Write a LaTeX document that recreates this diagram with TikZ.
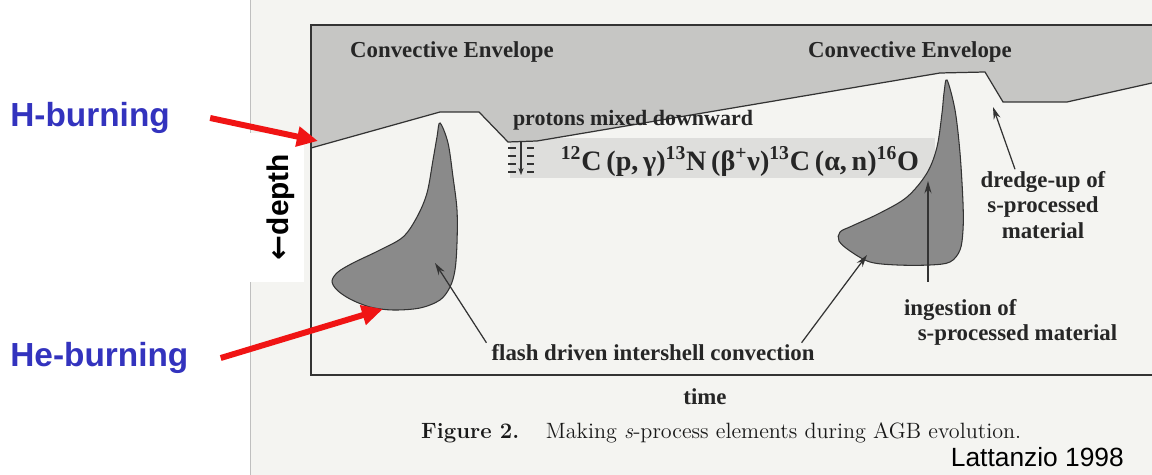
\documentclass[tikz,border=0pt]{standalone}
\usepackage{fontspec}
\newfontfamily\scanfont{Liberation Serif}
\newfontfamily\slidefont{Liberation Sans}
\newfontfamily\arrowfont{DejaVu Sans}
\usetikzlibrary{arrows.meta}
\definecolor{pagegray}{RGB}{244,244,241}
\definecolor{envgray}{RGB}{198,198,196}
\definecolor{bandgray}{RGB}{222,222,220}
\definecolor{shellgray}{RGB}{138,138,138}
\definecolor{slideblue}{RGB}{51,51,190}
\definecolor{slidered}{RGB}{240,20,20}

\begin{document}
\begin{tikzpicture}[x=0.02cm, y=-0.02cm,
    scan/.style={font=\scanfont\bfseries\fontsize{13}{14.5}\selectfont, text=black!85, inner sep=1pt},
    slide/.style={font=\slidefont\bfseries\fontsize{19}{22}\selectfont, text=slideblue, inner sep=0pt, anchor=west},
    thinarrow/.style={draw=black!80, line width=0.7pt, -{Stealth[length=7pt, width=4pt]}},
    redarrow/.style={draw=slidered, line width=3.4pt, -{Triangle[length=12pt, width=11pt]}},
    shell/.style={fill=shellgray, draw=black!80, line width=0.6pt}]
  \useasboundingbox (0,0) rectangle (1152,475);
  % scanned page
  \fill[pagegray] (250,0) rectangle (1152,475);
  \draw[black!25] (250,0) -- (250,475);
  \fill[white] (250,133) rectangle (304,282);
  % band behind the reaction chain
  \fill[bandgray] (510,138) rectangle (935,178);
  % convective envelope
  \fill[envgray] (311,25) -- (1152,25) -- (1152,83) -- (1067,102) -- (1003,102) -- (985,72)
    -- (940,73) -- (537,141) -- (508,142) -- (479,112) -- (440,112) -- (311,148) -- cycle;
  \draw[black!80, line width=0.7pt] (311,148) -- (440,112) -- (479,112) -- (508,142) -- (537,141)
    -- (940,73) -- (985,72) -- (1003,102) -- (1067,102) -- (1152,83);
  % frame
  \draw[black!80, line width=0.7pt] (1152,25) -- (311,25) -- (311,375) -- (1152,375);
  % intershell convective zones
  \draw[shell] plot[smooth cycle, tension=0.55] coordinates {(440,123) (448,143) (453,177) (457,210)
    (457,243) (455,270) (450,287) (440,300) (420,308) (393,310) (370,307) (350,299) (337,290)
    (332,281) (338,272) (353,263) (380,250) (403,237) (417,217) (427,193) (433,160) (437,137)};
  \draw[shell] plot[smooth cycle, tension=0.55] coordinates {(947,80) (955,110) (960,153) (963,203)
    (963,230) (960,250) (950,262) (930,265) (897,265) (870,262) (850,251) (839,241) (840,232)
    (852,226) (880,213) (907,197) (927,173) (937,147) (942,113) (944,93)};
  % protons mixed downward
  \foreach \y in {148,156,164,172} {
    \draw[black!80, line width=0.6pt] (508,\y) -- (516,\y) (527,\y) -- (534,\y);
  }
  \draw[black!80, line width=0.6pt, -{Stealth[length=4pt, width=3pt]}] (521,142) -- (521,175);

  \node[scan] (envL) at (452,52) {Convective Envelope};
  \node[scan] (envR) at (910,52) {Convective Envelope};
  \node[scan, font=\scanfont\bfseries\fontsize{12.5}{14}\selectfont] (protons) at (633,120) {protons mixed downward};
  \node[scan, font=\scanfont\bfseries\fontsize{16}{18}\selectfont] (chain) at (740,161)
    {\textsuperscript{12}C\,(p,\,γ)\textsuperscript{13}N\,(β\textsuperscript{+}ν)\textsuperscript{13}C\,(α,\,n)\textsuperscript{16}O};
  \node[scan, align=center] (dredge) at (1043,205) {dredge-up of\\s-processed\\material};
  \node[scan, align=left, anchor=north west] (ingest) at (902,297) {ingestion of\\\hspace{0.6em}s-processed material};
  \node[scan] (flash) at (653,353) {flash driven intershell convection};
  \node[scan] (time) at (705,397) {time};
  \node[font=\fontsize{12.6}{15}\selectfont, text=black!90, anchor=west] (caption) at (415,433)
    {\textbf{Figure 2.}\hspace{1.2em}Making \textit{s}-process elements during AGB evolution.};
  \node[font=\slidefont\fontsize{15}{18}\selectfont, anchor=east] (ref) at (1130,457) {Lattanzio 1998};
  \node[font=\slidefont\bfseries\fontsize{17}{20}\selectfont, rotate=90] (depth) at (281,207)
    {{\arrowfont\bfseries ←}depth};

  % arrow targets
  \coordinate (flashTipL) at (435,263);
  \coordinate (flashTipR) at (867,255);
  \coordinate (ingestTip) at (928,181);
  \coordinate (dredgeTip) at (993,107);
  \draw[thinarrow] ([xshift=-0.06cm]flash.north west) -- (flashTipL);
  \draw[thinarrow] ([xshift=-0.3cm]flash.north east) -- (flashTipR);
  \draw[thinarrow] (ingestTip |- 0,282) -- (ingestTip);
  \draw[thinarrow] ([xshift=-0.56cm]dredge.north) -- (dredgeTip);

  % slide labels
  \node[slide] (hburn) at (10,118) {H-burning};
  \node[slide] (heburn) at (10,358) {He-burning};
  \coordinate (hTip) at (318,141);
  \coordinate (heTip) at (383,309);
  \draw[redarrow] ([xshift=0.8cm]hburn.east) -- (hTip);
  \draw[redarrow] ([xshift=0.64cm]heburn.east) -- (heTip);
\end{tikzpicture}
\end{document}
